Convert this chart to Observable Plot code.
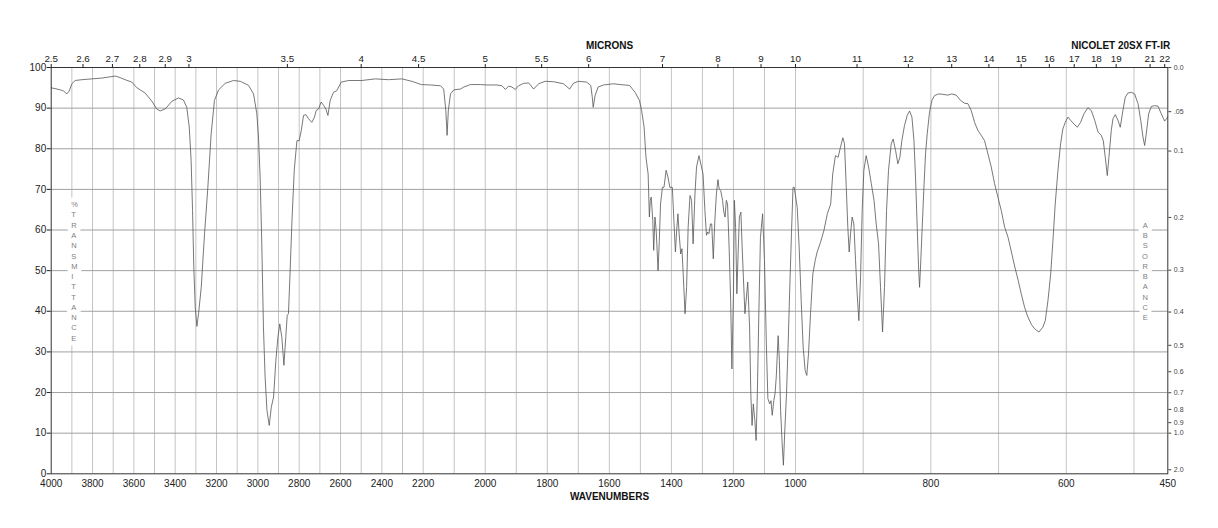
<!DOCTYPE html>
<html>
<head>
<meta charset="utf-8">
<script src="https://cdn.jsdelivr.net/npm/d3@7"></script>
<script src="https://cdn.jsdelivr.net/npm/@observablehq/plot@0.6"></script>
<style>
html, body { margin: 0; padding: 0; background: #fff; }
#chart svg { display: block; }
</style>
</head>
<body>
<div id="chart"></div>
<script>
// ---- Spectrum data (wavenumber cm-1, % transmittance) ----
const wnHigh = [4000,3981,3956,3940,3924,3913,3900,3884,3852,3803,3755,3690,3666,3642,3610,3585,3545,3513,3489,3473,3448,3416,3384,3360,3344,3332,3323,3316,3310,3303,3295,3287,3274,3258,3242,3226,3210,3190,3158,3118,3085,3045,3021,3005,2997,2989,2981,2973,2965,2956,2945,2935,2924,2913,2903,2894,2884,2874,2865,2858,2852,2845,2835,2824,2811,2800,2790,2779,2768,2755,2739,2726,2718,2706,2694,2682,2671,2661,2650,2634,2618,2597,2561,2497,2432,2368,2303,2255,2209];
const tHigh = [95.0,94.8,94.5,94.2,93.5,94.2,96.0,96.8,97.0,97.2,97.4,97.9,97.5,97.0,96.4,95.0,93.7,91.7,89.8,89.3,89.8,91.7,92.5,92.0,90.2,85.3,77.1,64.8,50.9,41.0,36.3,39.4,45.9,59.1,70.5,83.7,91.9,94.5,96.1,96.8,96.6,95.6,93.5,88.6,82.9,73.0,56.6,36.1,23.8,15.6,11.9,16.4,18.9,27.9,33.6,36.9,33.6,26.7,33.6,39.0,39.4,48.4,62.3,74.7,82.0,82.0,84.5,88.2,88.4,87.4,86.5,87.8,89.4,89.8,91.5,90.7,89.8,88.2,91.9,93.9,94.3,96.4,96.8,96.8,97.2,97.0,97.2,96.6,95.8];

const wnMid = [2176,2144,2134,2127,2123,2119,2112,2101,2080,2069,2048,2016,1994,1962,1946,1935,1925,1914,1903,1893,1876,1860,1844,1828,1807,1780,1748,1728,1716,1700,1673,1660,1655,1652,1646,1636,1619,1587,1566,1535,1517,1503,1496,1488,1482,1475,1471,1468,1465,1460,1457,1453,1449,1443,1439,1435,1429,1424,1417,1411,1405,1397,1392,1387,1383,1379,1375,1370,1366,1362,1356,1351,1346,1340,1335,1330,1324,1319,1311,1303,1298,1292,1287,1283,1279,1274,1270,1265,1260,1255,1250,1246,1241,1235,1231,1227,1223,1219,1214,1209,1205,1200,1197,1193,1189,1185,1181,1176,1172,1168,1163,1159,1154,1148,1144,1140,1136,1131,1127,1123,1118,1113,1106,1100,1094,1089,1083,1079,1075,1070,1066,1062,1056,1052,1048,1043,1039,1035,1029,1024,1019,1013,1008,1004];
const tMid = [95.7,95.5,94.7,89.4,83.3,89.4,93.5,94.5,94.7,95.2,95.8,95.8,95.7,95.7,95.5,94.6,95.4,95.2,94.6,95.5,96.1,96.2,94.7,96.0,96.6,96.5,96.0,94.7,96.1,96.6,96.4,95.6,92.7,90.2,93.1,95.2,95.7,96.0,95.8,95.6,93.9,91.9,89.4,85.3,77.9,73.8,63.2,67.3,68.1,62.3,55.0,63.2,59.9,50.0,57.4,66.4,70.5,70.5,74.7,73.0,70.5,70.5,62.3,54.6,59.9,64.0,59.1,54.1,55.4,49.2,39.4,45.9,60.7,68.5,67.3,56.6,68.9,75.5,78.3,75.5,73.8,64.8,58.7,59.5,59.1,61.5,61.5,52.9,62.3,68.9,72.4,70.1,69.7,67.3,64.4,63.2,67.3,66.4,55.8,42.7,25.8,44.3,67.3,60.7,44.3,54.1,63.2,64.4,55.8,48.4,39.4,42.7,47.2,36.1,19.7,11.9,17.2,13.1,8.2,19.7,40.2,58.2,64.0,52.5,32.0,18.5,17.2,18.0,14.4,18.0,19.7,23.8,34.0,27.9,15.6,7.4,2.1,9.8,19.7,31.2,44.3,59.1,70.5,70.5];

const wnLow = [997.5,994.6,991.6,988.7,985.7,983.3,980.8,977.8,974.4,970.9,968,963,958,953,948,945,941,937,933.5,930,927.6,925,922.7,920.7,918.7,916.3,913.8,911.3,908.9,906.4,903.9,901.5,899,895.6,892,888,884,880.8,877.3,874.4,871.4,868.5,865.5,862.6,858.6,855.7,852.2,848.8,845.8,842.9,839,835,831.5,828,825,822.7,820.2,818.2,816.7,815.3,812.8,810.3,807.9,805.4,802,798.5,794.6,788.7,782.3,774.9,769,762.6,756.2,750.2,745.3,740.4,735.5,730.5,725.6,720.7,715.8,710.8,705.9,701,696,691,686,681,676,671,666.5,661.6,656.7,651.7,646.8,640.4,634.5,631,627,623,619.7,616.3,612.3,608.4,605,601.5,597.5,593.6,588.7,583.7,578.8,573.9,568,563,558,553,548.3,545.3,542.4,539.4,537,533.5,531,527.6,523.6,520.2,516.3,512.8,509,504,499,494,490,486.7,484.2,481.8,478.3,474.4,469.5,464.5,459.6,454.7,450];
const tLow = [65.6,55.8,42.7,31.2,25.4,24.2,29.5,39.4,49.2,52.5,54.6,57.0,59.9,64.0,66.4,73.8,78.3,77.9,80.4,82.7,81.2,70.5,60.7,54.6,59.1,63.2,61.5,52.5,44.3,37.7,48.4,64.8,74.7,78.3,75.5,71.4,67.3,61.5,56.6,45.9,34.9,45.9,64.8,74.7,81.2,82.4,79.6,76.3,77.9,82.0,85.7,88.2,89.3,87.8,82.0,73.0,60.7,50.9,45.9,50.9,60.7,70.5,78.8,83.7,89.0,91.9,93.1,93.5,93.4,93.2,93.5,93.2,91.9,91.2,91.1,89.4,86.5,84.5,83.3,82.0,78.8,75.5,71.4,68.1,64.8,60.7,58.2,54.6,50.9,47.6,44.3,41.0,38.6,36.8,35.7,34.9,36.1,37.7,42.7,49.2,57.4,66.4,74.7,81.2,84.9,86.5,87.8,87.0,86.1,85.3,86.5,88.6,90.1,89.4,87.0,84.1,83.3,82.0,77.9,73.4,77.9,84.5,87.4,88.4,87.0,85.3,89.4,92.7,93.7,93.9,93.5,91.1,87.0,82.9,80.8,83.7,88.6,90.4,90.6,90.5,88.6,86.8,87.8];

// ---- Axis ticks / labels ----
const wavenumberTicks = [4000,3800,3600,3400,3200,3000,2800,2600,2400,2200,2000,1800,1600,1400,1200,1000,800,600,450];
const micronTicks = [2.5,2.6,2.7,2.8,2.9,3,3.5,4,4.5,5,5.5,6,7,8,9,10,11,12,13,14,15,16,17,18,19,21,22];
const transmittanceTicks = [0,10,20,30,40,50,60,70,80,90,100];
const absorbanceTicks = [0.0,0.05,0.1,0.2,0.3,0.4,0.5,0.6,0.7,0.8,0.9,1.0,2.0];
const absorbanceLabels = ["0.0",".05","0.1","0.2","0.3","0.4","0.5","0.6","0.7","0.8","0.9","1.0","2.0"];
const scaleBreaks = [4000, 2200, 1000, 450];

// ---- Build table ----
const spectrum = [];
[[wnHigh, tHigh], [wnMid, tMid], [wnLow, tLow]].forEach(([w, t]) =>
  w.forEach((v, i) => spectrum.push({wn: v, t: t[i]})));

const gridWn = d3.range(3900, 499, -100);
const gridT = d3.range(10, 100, 10);
const micronWn = micronTicks.map(m => 10000 / m);
const absT = absorbanceTicks.map(a => 100 * Math.pow(10, -a));

const W = 1218, H = 528;
const L = 50.7, R = 1167.3, T = 67, B = 473.3;

const chart = Plot.plot({
  width: W,
  height: H,
  marginLeft: L,
  marginRight: W - R,
  marginTop: T,
  marginBottom: H - B,
  style: {fontFamily: "'Liberation Sans', Arial, Helvetica, sans-serif", fontSize: "10px", color: "#222", background: "#fff"},
  x: {type: "linear", domain: scaleBreaks, range: [L, 422.7, 795, R]},
  y: {type: "linear", domain: [0, 100]},
  marks: [
    Plot.ruleX(gridWn, {stroke: "#c4c4c4", strokeWidth: 1}),
    Plot.ruleY(gridT, {stroke: "#a0a0a0", strokeWidth: 1}),
    Plot.line(spectrum, {x: "wn", y: "t", stroke: "#555", strokeWidth: 0.8}),
    Plot.text(["%\nT\nR\nA\nN\nS\nM\nI\nT\nT\nA\nN\nC\nE"], {
      frameAnchor: "left", lineAnchor: "middle", dx: 20, fontSize: 7.5, lineHeight: 1.37,
      fill: "#808080", stroke: "white", strokeWidth: 9, paintOrder: "stroke", strokeLinejoin: "round"
    }),
    Plot.text(["A\nB\nS\nO\nR\nB\nA\nN\nC\nE"], {
      frameAnchor: "right", lineAnchor: "middle", dx: -20, fontSize: 7.5, lineHeight: 1.37,
      fill: "#808080", stroke: "white", strokeWidth: 9, paintOrder: "stroke", strokeLinejoin: "round"
    }),
    Plot.frame({stroke: "#333", strokeWidth: 1}),
    Plot.axisY(transmittanceTicks, {anchor: "left", tickSize: 4, tickPadding: 1, label: null, fontSize: 10,
      tickFormat: d => String(d)}),
    Plot.axisY(absT, {anchor: "right", tickSize: 3, tickPadding: 3, label: null, fontSize: 7,
      color: "#444", tickFormat: d => absorbanceLabels[absT.indexOf(d)]}),
    Plot.axisX(wavenumberTicks, {anchor: "bottom", tickSize: 0, tickPadding: 6.5, label: null, fontSize: 10,
      tickFormat: d => String(d)}),
    Plot.axisX(micronWn, {anchor: "top", tickSize: 4, tickPadding: 1.3, label: null, fontSize: 9.8,
      tickFormat: d => String(+(10000 / d).toFixed(1))}),
    Plot.text(["MICRONS"], {frameAnchor: "top", lineAnchor: "middle", dy: -22, fontWeight: "bold", fontSize: 10, fill: "#111"}),
    Plot.text(["NICOLET 20SX FT-IR"], {frameAnchor: "top-right", lineAnchor: "middle", textAnchor: "end", dx: 2.4, dy: -22, fontWeight: "bold", fontSize: 10, fill: "#111"}),
    Plot.text(["WAVENUMBERS"], {frameAnchor: "bottom", lineAnchor: "middle", dy: 23.4, fontWeight: "bold", fontSize: 10, fill: "#111"})
  ]
});
document.getElementById("chart").appendChild(chart);
</script>
</body>
</html>
